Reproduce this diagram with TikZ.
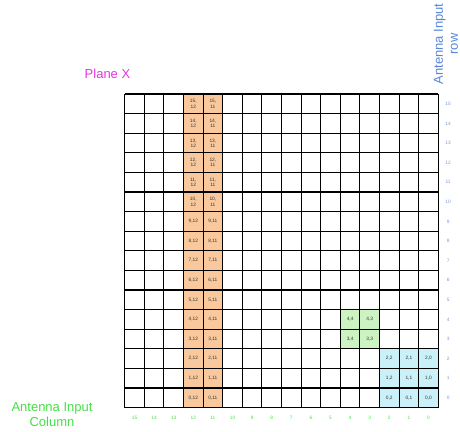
\documentclass[tikz,border=0pt]{standalone}
\usepackage{fontspec}
\setmainfont{Liberation Sans}
\usepackage{xcolor}
\usetikzlibrary{positioning}

\definecolor{orangecell}{HTML}{F9C99D}
\definecolor{greencell}{HTML}{CDF3C2}
\definecolor{cyancell}{HTML}{C9F1F7}
\definecolor{planemag}{HTML}{E535E5}
\definecolor{rowblue}{HTML}{5A86D8}
\definecolor{colgreen}{HTML}{45E045}

\begin{document}
\begin{tikzpicture}[x=1pt, y=-1pt,
  cellnum/.style={font=\fontsize{4.8}{5.2}\selectfont, text=black!80, align=center, inner sep=0pt},
  rownum/.style={font=\fontsize{4.8}{5}\selectfont, text=rowblue!85, inner sep=0pt},
  colnum/.style={font=\fontsize{4.8}{5}\selectfont, text=colgreen, inner sep=0pt},
  caption/.style={font=\fontsize{13}{15}\selectfont, align=center, inner sep=0pt}]
  \useasboundingbox (0,0) rectangle (460,431);

  % Titles
  \node[caption, text=planemag] (plane) at (107.5,74) {Plane X};
  \node[caption, text=rowblue, rotate=90] (rowtitle) at (446,44) {Antenna Input\\row};
  \node[caption, text=colgreen] (coltitle) at (52,415) {Antenna Input\\Column};

  % The grid, one unit per cell
  \begin{scope}[shift={(124.7,94)}, x=19.6pt, y=-19.6pt]
    % Column 12 and 11
    \fill[orangecell] (3,0) rectangle (5,16);
    % Green block
    \fill[greencell] (11,11) rectangle (13,13);
    % Cyan block
    \fill[cyancell] (13,13) rectangle (16,16);
    % Lines
    \foreach \i in {0,...,16} {
      \draw[line width=1.1pt] (\i,0) -- (\i,16);
      \draw[line width=1.1pt] (0,\i) -- (16,\i);
    }

    % Row and column numbers
    \foreach \n in {0,...,15} {
      \node[rownum] (row-\n) at (16.5,15.5-\n) {\n};
      \node[colnum] (col-\n) at (15.5-\n,16.5) {\n};
    }

    % Orange labels
    \foreach \r in {10,...,15} {
      \node[cellnum] (c-\r-12) at (3.5,15.5-\r) {\r,\\12};
      \node[cellnum] (c-\r-11) at (4.5,15.5-\r) {\r,\\11};
    }
    \foreach \r in {0,...,9} {
      \node[cellnum] (c-\r-12) at (3.5,15.5-\r) {\r,12};
      \node[cellnum] (c-\r-11) at (4.5,15.5-\r) {\r,11};
    }
    % Green labels
    \foreach \r in {3,4} {
      \foreach \k in {3,4} {
        \node[cellnum] (c-\r-\k) at (15.5-\k,15.5-\r) {\r,\k};
      }
    }
    % Cyan labels
    \foreach \r in {0,1,2} {
      \foreach \k in {0,1,2} {
        \node[cellnum] (c-\r-\k) at (15.5-\k,15.5-\r) {\r,\k};
      }
    }
  \end{scope}
\end{tikzpicture}
\end{document}
